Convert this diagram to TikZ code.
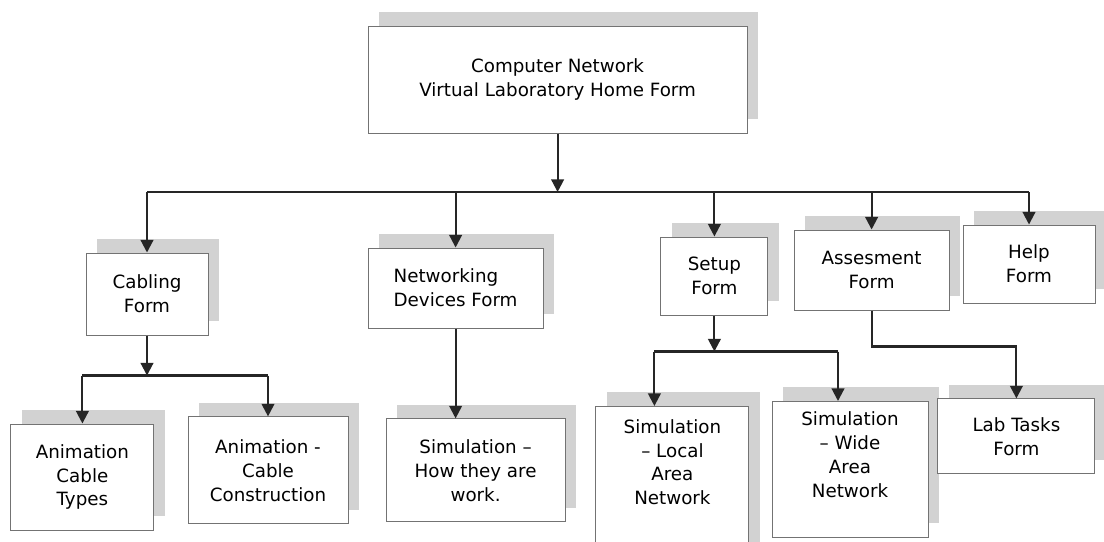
\documentclass[tikz,border=0pt]{standalone}
\usepackage{fontspec}
\setmainfont{DejaVu Sans}
\usetikzlibrary{positioning,shadows,arrows.meta}

\begin{document}
\begin{tikzpicture}[
    form/.style = {draw = black!55, line width = 0.7pt, fill = white, align = center,
                   font = \fontsize{13}{17}\selectfont, inner sep = 0pt,
                   general shadow = {fill = gray!35, draw = none, shadow xshift = 0.28cm, shadow yshift = 0.36cm}},
    wire/.style = {line width = 1.5pt, draw = black!85},
    flow/.style = {wire, -{Triangle[length = 9pt, width = 9pt]}}
]
    \fill[white] (0, 0) rectangle (27.6, -13.525);
    \useasboundingbox (0, 0) rectangle (27.6, -13.525);

    \node[form, minimum width = 9.48cm, minimum height = 2.68cm] (home) at (13.94, -1.99)
        {Computer Network\\Virtual Laboratory Home Form};

    \node[form, minimum width = 3.05cm, minimum height = 2.05cm] (cabling) at (3.675, -7.35) {Cabling\\Form};
    \node[form, minimum width = 4.375cm, minimum height = 2cm, align = left] (netdev) at (11.39, -7.2) {Networking\\Devices Form};
    \node[form, minimum width = 2.675cm, minimum height = 1.95cm] (setup) at (17.86, -6.9) {Setup\\Form};
    \node[form, minimum width = 3.875cm, minimum height = 2cm] (assess) at (21.79, -6.75) {Assesment\\Form};
    \node[form, minimum width = 3.3cm, minimum height = 1.95cm] (helpf) at (25.725, -6.6) {Help\\Form};

    \node[form, minimum width = 3.575cm, minimum height = 2.65cm] (types) at (2.06, -11.925) {Animation\\Cable\\Types};
    \node[form, minimum width = 4cm, minimum height = 2.675cm] (constr) at (6.7, -11.76) {Animation -\\Cable\\Construction};
    \node[form, minimum width = 4.475cm, minimum height = 2.575cm] (howwork) at (11.89, -11.76) {Simulation –\\How they are\\work.};
    \node[form, minimum width = 3.825cm, inner ysep = 0.32cm, anchor = north] (local) at (16.81, -10.15)
        {\parbox[t][3.6cm][t]{3.4cm}{\centering Simulation\\– Local\\Area\\Network}};
    \node[form, minimum width = 3.9cm, inner ysep = 0.25cm, anchor = north] (wide) at (21.25, -10.025)
        {\parbox[t][2.9cm][t]{3.4cm}{\centering Simulation\\– Wide\\Area\\Network}};
    \node[form, minimum width = 3.925cm, minimum height = 1.875cm] (labtask) at (25.41, -10.91) {Lab Tasks\\Form};

    \coordinate (hub) at (13.94, -4.8);
    \draw[flow] (home) -- (hub);
    \draw[wire] (cabling |- hub) -- (helpf |- hub);
    \foreach \f in {cabling, netdev, setup, assess, helpf}
        \draw[flow] (\f |- hub) -- (\f);

    \coordinate[below = 1.0cm of cabling] (cabhub);
    \draw[flow] (cabling) -- (cabhub);
    \draw[wire] (types |- cabhub) -- (constr |- cabhub);
    \foreach \f in {types, constr}
        \draw[flow] (\f |- cabhub) -- (\f);

    \draw[flow] (netdev) -- (netdev |- howwork.north);

    \coordinate[below = 0.9cm of setup] (sethub);
    \coordinate (localin) at ([xshift = -0.45cm]local.north);
    \coordinate (widein) at ([xshift = -0.3cm]wide.north);
    \draw[flow] (setup) -- (sethub);
    \draw[wire] (localin |- sethub) -- (widein |- sethub);
    \foreach \f in {localin, widein}
        \draw[flow] (\f |- sethub) -- (\f);

    \draw[flow] (assess.south) -- ++(0, -0.9) -| (labtask);
\end{tikzpicture}
\end{document}
